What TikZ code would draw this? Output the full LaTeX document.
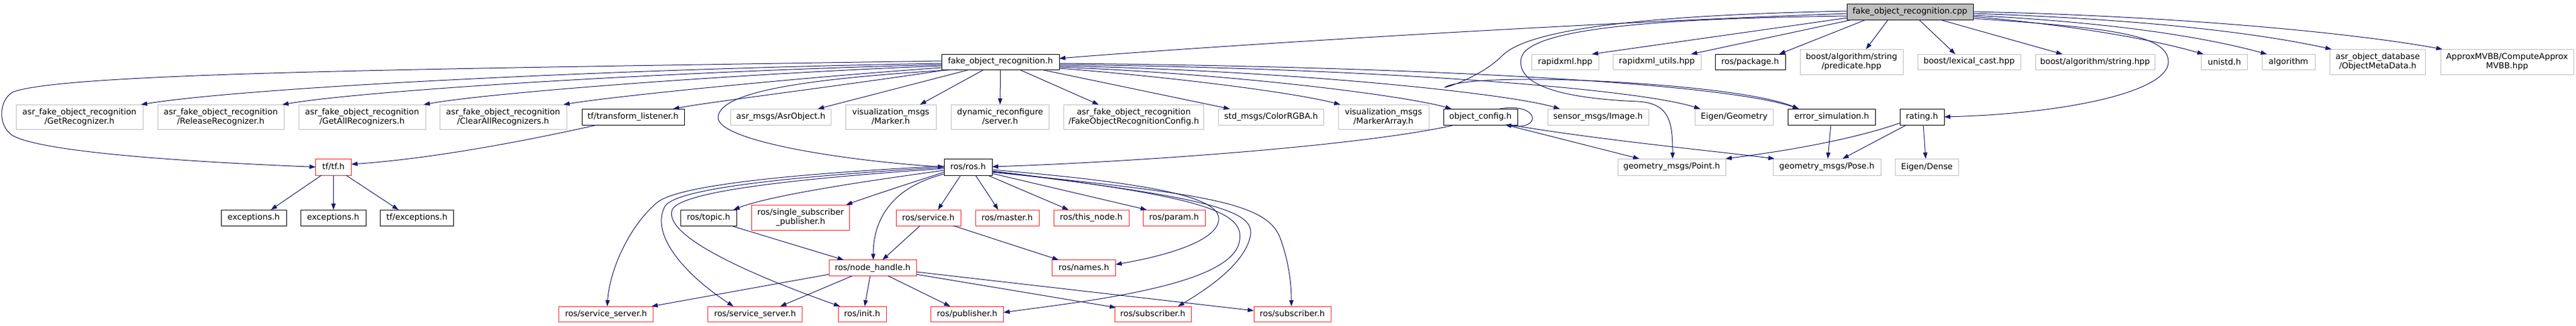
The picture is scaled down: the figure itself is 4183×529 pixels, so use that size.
\documentclass[tikz,border=0pt]{standalone}
\usepackage{fontspec}
\setmainfont{DejaVu Sans}
\usetikzlibrary{arrows.meta,calc}
\definecolor{edgec}{HTML}{191970}
\definecolor{greyb}{HTML}{BFBFBF}
\definecolor{redb}{HTML}{FF2020}
\begin{document}
\begin{tikzpicture}[x=0.75pt,y=-0.75pt,
  nd/.style={rectangle,inner sep=0pt,line width=0.75pt,align=center,font=\fontsize{10}{11.25}\selectfont,text=black},
  gb/.style={nd,draw=greyb},
  bb/.style={nd,draw=black},
  rb/.style={nd,draw=redb},
  topnode/.style={nd,draw=black,fill=greyb},
  sz/.style 2 args={minimum width=#1*0.75pt,minimum height=#2*0.75pt},
  ed/.style={draw=edgec,line width=0.75pt,-{Triangle[length=7.5pt,width=5.25pt]}}]
\fill[white] (0,0) rectangle (4183,529);
\path[use as bounding box] (0,0) rectangle (4183,529);
% row 0
\node[topnode,sz={205}{26}] (cpp) at (3101.5,19) {fake\_object\_recognition.cpp};
% row 1
\node[bb,sz={191}{25}] (foh) at (1624.5,100.5) {fake\_object\_recognition.h};
\node[gb,sz={109}{25}] (rx) at (2541.5,100.5) {rapidxml.hpp};
\node[gb,sz={143}{25}] (rxu) at (2690.5,100.5) {rapidxml\_utils.hpp};
\node[bb,sz={114}{25}] (pkg) at (2842,100.5) {ros/package.h};
\node[gb,sz={167}{41}] (pred) at (3006.5,100.5) {boost/algorithm/string\\/predicate.hpp};
\node[gb,sz={167}{25}] (lex) at (3197.5,100.5) {boost/lexical\_cast.hpp};
\node[gb,sz={194}{25}] (str) at (3402,100.5) {boost/algorithm/string.hpp};
\node[gb,sz={75}{25}] (uni) at (3612,100.5) {unistd.h};
\node[gb,sz={86}{25}] (alg) at (3716,100.5) {algorithm};
\node[gb,sz={155}{41}] (omd) at (3861,100.5) {asr\_object\_database\\/ObjectMetaData.h};
\node[gb,sz={216}{41}] (mvbb) at (4071,100.5) {ApproxMVBB/ComputeApprox\\MVBB.hpp};
% row 2
\node[gb,sz={206}{40}] (gr) at (129,190) {asr\_fake\_object\_recognition\\/GetRecognizer.h};
\node[gb,sz={205}{40}] (rr) at (358.5,190) {asr\_fake\_object\_recognition\\/ReleaseRecognizer.h};
\node[gb,sz={206}{40}] (gar) at (588,190) {asr\_fake\_object\_recognition\\/GetAllRecognizers.h};
\node[gb,sz={206}{40}] (car) at (817,190) {asr\_fake\_object\_recognition\\/ClearAllRecognizers.h};
\node[bb,sz={166}{26}] (tl) at (1028,190) {tf/transform\_listener.h};
\node[gb,sz={163}{26}] (ao) at (1268,190) {asr\_msgs/AsrObject.h};
\node[gb,sz={147}{40}] (mk) at (1446.5,190) {visualization\_msgs\\/Marker.h};
\node[gb,sz={159}{40}] (dr) at (1624,190) {dynamic\_reconfigure\\/server.h};
\node[gb,sz={227}{40}] (cfg) at (1841,190) {asr\_fake\_object\_recognition\\/FakeObjectRecognitionConfig.h};
\node[gb,sz={171}{26}] (rgba) at (2064,190) {std\_msgs/ColorRGBA.h};
\node[gb,sz={147}{40}] (mka) at (2246.5,190) {visualization\_msgs\\/MarkerArray.h};
\node[bb,sz={120}{26}] (oc) at (2404,190) {object\_config.h};
\node[gb,sz={164}{26}] (img) at (2595,190) {sensor\_msgs/Image.h};
\node[gb,sz={127}{26}] (eg) at (2816,190) {Eigen/Geometry};
\node[bb,sz={142}{26}] (es) at (2974.5,190) {error\_simulation.h};
\node[bb,sz={72}{26}] (rt) at (3121,190) {rating.h};
% row 3
\node[rb,sz={58}{27}] (tf) at (541.5,271.5) {tf/tf.h};
\node[bb,sz={78}{27}] (ros) at (1572,271.5) {ros/ros.h};
\node[gb,sz={175}{27}] (pt) at (2714.5,271.5) {geometry\_msgs/Point.h};
\node[gb,sz={175}{27}] (pose) at (2966.5,271.5) {geometry\_msgs/Pose.h};
\node[gb,sz={103}{27}] (dense) at (3129,271.5) {Eigen/Dense};
% row 4
\node[bb,sz={106}{26}] (ex1) at (412,354) {exceptions.h};
\node[bb,sz={106}{26}] (ex2) at (541,354) {exceptions.h};
\node[bb,sz={119}{26}] (tfex) at (677,354) {tf/exceptions.h};
\node[bb,sz={91}{26}] (topic) at (1150.5,354) {ros/topic.h};
\node[rb,sz={159}{41}] (ssp) at (1300,353.5) {ros/single\_subscriber\\\_publisher.h};
\node[rb,sz={105}{26}] (svc) at (1507.5,354) {ros/service.h};
\node[rb,sz={103}{26}] (mst) at (1635.5,354) {ros/master.h};
\node[rb,sz={122}{26}] (tn) at (1772,354) {ros/this\_node.h};
\node[rb,sz={101}{26}] (prm) at (1906.5,354) {ros/param.h};
% row 5
\node[rb,sz={142}{26}] (nh) at (1417,435.5) {ros/node\_handle.h};
\node[rb,sz={103}{26}] (nm) at (1760,435.5) {ros/names.h};
% row 6
\node[rb,sz={153}{25}] (ss1) at (984,510.5) {ros/service\_server.h};
\node[rb,sz={153}{25}] (ss2) at (1226,510.5) {ros/service\_server.h};
\node[rb,sz={78}{25}] (ini) at (1400,510.5) {ros/init.h};
\node[rb,sz={118}{25}] (pub) at (1570.5,510.5) {ros/publisher.h};
\node[rb,sz={124}{25}] (sub1) at (1872,510.5) {ros/subscriber.h};
\node[rb,sz={125}{25}] (sub2) at (2098.5,510.5) {ros/subscriber.h};

% ---- edges from cpp
\draw[ed] ($(cpp)+(-102.5,3)$) .. controls (2500,40) and (1900,80) .. ($(foh)+(95.5,-5.5)$);
\draw[ed] ($(cpp)+(-101.5,10)$) -- ($(rx)+(43.5,-12.5)$);
\draw[ed] ($(cpp)+(-93.5,13)$) -- ($(rxu)+(55.5,-12.5)$);
\draw[ed] ($(cpp)+(-71.5,13)$) -- ($(pkg)+(47,-12.5)$);
\draw[ed] ($(cpp)+(-35.5,13)$) -- ($(pred)+(23.5,-20.5)$);
\draw[ed] ($(cpp)+(14.5,13)$) -- ($(lex)+(-22.5,-12.5)$);
\draw[ed] ($(cpp)+(48.5,13)$) -- ($(str)+(-53,-12.5)$);
\draw[ed] ($(cpp)+(102.5,8)$) .. controls (3350,40) and (3480,60) .. ($(uni)+(-34,-12.5)$);
\draw[ed] ($(cpp)+(102.5,6)$) .. controls (3400,35) and (3560,55) .. ($(alg)+(-35,-12.5)$);
\draw[ed] ($(cpp)+(102.5,3)$) .. controls (3450,30) and (3650,50) .. ($(omd)+(-75,-20.5)$);
\draw[ed] ($(cpp)+(102.5,0)$) .. controls (3500,25) and (3800,50) .. ($(mvbb)+(-105,-20.5)$);
\draw[ed] ($(cpp)+(102.5,11)$) .. controls (3420,45) and (3520,55) .. (3521,100) .. controls (3522,150) and (3350,185) .. ($(rt)+(36,0)$);
\draw[ed] ($(cpp)+(-102.5,7)$) .. controls (2700,30) and (2480,45) .. (2470,95) .. controls (2462,140) and (2540,160) .. (2660,165) .. controls (2712,168) and (2716,200) .. ($(pt)+(1.5,-13.5)$);
\draw[ed] ($(cpp)+(-102.5,-1)$) .. controls (2650,25) and (2480,50) .. (2440,90) .. controls (2400,130) and (2330,148) .. (2350,140) .. controls (2380,128) and (2500,125) .. (2650,135) .. controls (2800,145) and (2880,160) .. ($(es)+(-53.5,-13)$);

% ---- edges from foh
\draw[ed] ($(foh)+(-95.5,-1.5)$) .. controls (700,112) and (100,118) .. (20,150) .. controls (-3,165) and (-3,205) .. (20,220) .. controls (70,250) and (350,265) .. ($(tf)+(-29,0)$);
\draw[ed] ($(foh)+(-95.5,2.5)$) .. controls (1000,112) and (400,142) .. ($(gr)+(100,-20)$);
\draw[ed] ($(foh)+(-95.5,4.5)$) .. controls (1100,116) and (600,146) .. ($(rr)+(100,-20)$);
\draw[ed] ($(foh)+(-95.5,6.5)$) .. controls (1200,120) and (800,150) .. ($(gar)+(100,-20)$);
\draw[ed] ($(foh)+(-95.5,9.5)$) .. controls (1300,126) and (1000,156) .. ($(car)+(98,-20)$);
\draw[ed] ($(foh)+(-84.5,12.5)$) .. controls (1400,135) and (1150,166) .. ($(tl)+(65,-13)$);
\draw[ed] ($(foh)+(-69.5,12.5)$) .. controls (1300,128) and (1170,150) .. (1166,190) .. controls (1163,230) and (1380,262) .. ($(ros)+(-39,0)$);
\draw[ed] ($(foh)+(-49.5,12.5)$) -- ($(ao)+(60,-13)$);
\draw[ed] ($(foh)+(-26.5,12.5)$) -- ($(mk)+(47.5,-20)$);
\draw[ed] ($(foh)+(0,12.5)$) -- ($(dr)+(0,-20)$);
\draw[ed] ($(foh)+(30.5,12.5)$) -- ($(cfg)+(-57,-20)$);
\draw[ed] ($(foh)+(65.5,12.5)$) -- ($(rgba)+(-67,-13)$);
\draw[ed] ($(foh)+(95.5,10.5)$) .. controls (1900,125) and (2100,150) .. ($(mka)+(-70,-20)$);
\draw[ed] ($(foh)+(95.5,8.5)$) .. controls (2000,120) and (2280,155) .. ($(oc)+(-47,-13)$);
\draw[ed] ($(foh)+(95.5,6.5)$) .. controls (2100,115) and (2450,152) .. ($(img)+(-62,-13)$);
\draw[ed] ($(foh)+(95.5,4.5)$) .. controls (2200,110) and (2650,142) .. ($(eg)+(-55,-13)$);
\draw[ed] ($(foh)+(95.5,2.5)$) .. controls (2300,108) and (2800,135) .. ($(es)+(-53.5,-13)$);

% ---- edges from ros/ros.h
\draw[ed] ($(ros)+(-12,13.5)$) -- ($(svc)+(15.5,-13)$);
\draw[ed] ($(ros)+(12,13.5)$) -- ($(mst)+(-14.5,-13)$);
\draw[ed] ($(ros)+(32,13.5)$) -- ($(tn)+(-37,-13)$);
\draw[ed] ($(ros)+(39,10.5)$) -- ($(prm)+(-44.5,-13)$);
\draw[ed] ($(ros)+(-39,11.5)$) .. controls (1445,305) and (1418,360) .. ($(nh)+(1,-13)$);
\draw[ed] ($(ros)+(39,4.5)$) .. controls (1900,300) and (1990,325) .. (1978,362) .. controls (1968,398) and (1870,420) .. ($(nm)+(51.5,-5.5)$);
\draw[ed] ($(ros)+(39,6.5)$) .. controls (1960,320) and (2025,345) .. (2012,395) .. controls (1995,465) and (1760,490) .. ($(pub)+(59,-2.5)$);
\draw[ed] ($(ros)+(39,7.5)$) .. controls (1980,322) and (2040,345) .. (2030,385) .. controls (2020,430) and (1960,470) .. ($(sub1)+(41,-12.5)$);
\draw[ed] ($(ros)+(39,8.5)$) .. controls (1960,315) and (2055,330) .. (2078,385) .. controls (2095,430) and (2097,470) .. ($(sub2)+(-1.5,-12.5)$);
\draw[ed] ($(ros)+(-39,5.5)$) .. controls (1400,295) and (1250,318) .. ($(topic)+(40.5,-13)$);
\draw[ed] ($(ros)+(-39,8.5)$) .. controls (1470,300) and (1410,320) .. ($(ssp)+(74,-20.5)$);
\draw[ed] ($(ros)+(-39,-1.5)$) .. controls (1300,282) and (1100,300) .. (1066,330) .. controls (1020,370) and (990,440) .. ($(ss1)+(2,-12.5)$);
\draw[ed] ($(ros)+(-39,0.5)$) .. controls (1300,286) and (1100,305) .. (1080,335) .. controls (1055,380) and (1110,445) .. ($(ss2)+(-35,-12.5)$);
\draw[ed] ($(ros)+(-39,2.5)$) .. controls (1300,290) and (1110,310) .. (1092,340) .. controls (1075,380) and (1200,440) .. ($(ini)+(-36,-12.5)$);

% ---- lower edges
\draw[ed] ($(topic)+(36.5,13)$) -- ($(nh)+(-47,-13)$);
\draw[ed] ($(svc)+(-13.5,13)$) -- ($(nh)+(16,-13)$);
\draw[ed] ($(svc)+(40.5,13)$) -- ($(nm)+(-41,-13)$);
\draw[ed] ($(nh)+(-71,10.5)$) -- ($(ss1)+(74,-12.5)$);
\draw[ed] ($(nh)+(-33,13)$) -- ($(ss2)+(41,-12.5)$);
\draw[ed] ($(nh)+(-4,13)$) -- ($(ini)+(4,-12.5)$);
\draw[ed] ($(nh)+(25,13)$) -- ($(pub)+(-27.5,-12.5)$);
\draw[ed] ($(nh)+(71,10.5)$) -- ($(sub1)+(-60,-10.5)$);
\draw[ed] ($(nh)+(71,6.5)$) -- ($(sub2)+(-62.5,-5.5)$);
\draw[ed] ($(tf)+(-19.5,13.5)$) -- ($(ex1)+(28,-13)$);
\draw[ed] ($(tf)+(0,13.5)$) -- ($(ex2)+(0.5,-13)$);
\draw[ed] ($(tf)+(20.5,13.5)$) -- ($(tfex)+(-30,-13)$);
\draw[ed] ($(tl)+(-58,13)$) .. controls (850,230) and (700,258) .. ($(tf)+(29,-4.5)$);
\draw[ed] ($(oc)+(-41,13)$) .. controls (2200,240) and (1800,265) .. ($(ros)+(39,-0.5)$);
\draw[ed] ($(oc)+(41,13)$) -- ($(pt)+(-52.5,-13.5)$);
\draw[ed] ($(oc)+(48,13)$) .. controls (2600,228) and (2780,245) .. ($(pose)+(-85,-13.5)$);
\draw[ed] ($(oc)+(31,-13)$) .. controls (2500,166) and (2505,212) .. ($(oc)+(40,13)$);
\draw[ed] ($(rt)+(-36,10)$) .. controls (3000,230) and (2880,248) .. ($(pt)+(87.5,-13.5)$);
\draw[ed] ($(rt)+(-25,13)$) -- ($(pose)+(25.5,-13.5)$);
\draw[ed] ($(rt)+(2,13)$) -- ($(dense)+(-2,-13.5)$);
\draw[ed] ($(es)+(-1.5,13)$) -- ($(pose)+(1.5,-13.5)$);
\end{tikzpicture}
\end{document}
